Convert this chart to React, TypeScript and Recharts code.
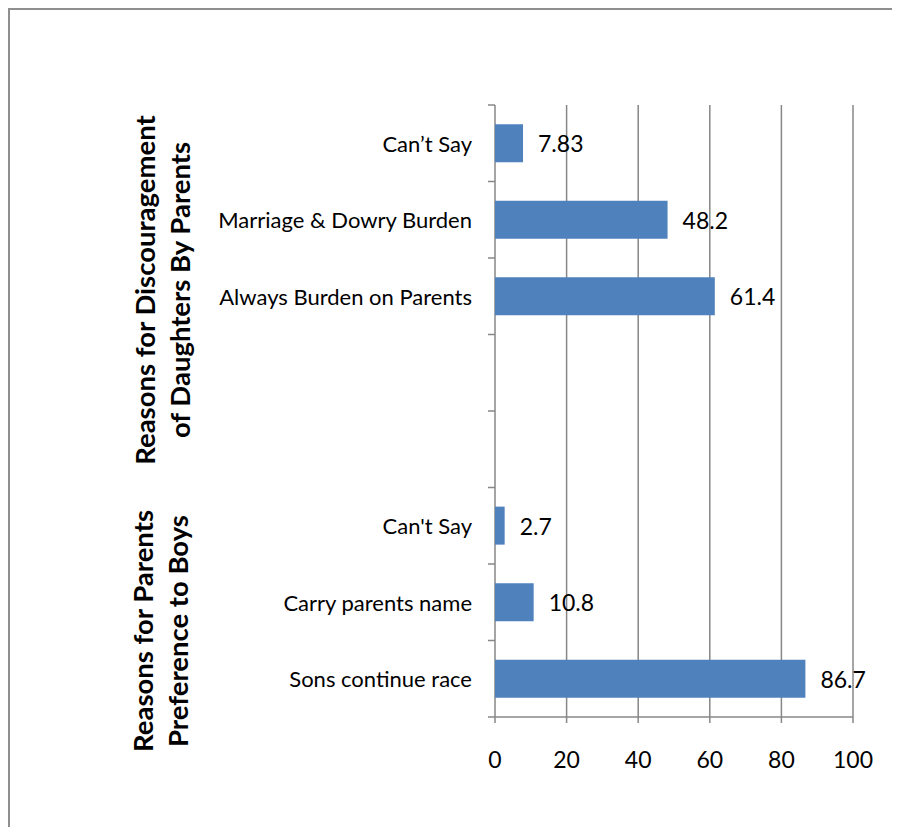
import { BarChart, Bar, XAxis, YAxis, CartesianGrid, LabelList } from "recharts";

// Rows top to bottom; the two empty slots separate the groups
const categories = [
  "Can’t Say",
  "Marriage & Dowry Burden",
  "Always Burden on Parents",
  "",
  "",
  "Can't Say",
  "Carry parents name",
  "Sons continue race",
];
const percentages = [7.83, 48.2, 61.4, null, null, 2.7, 10.8, 86.7];
const xTicks = [0, 20, 40, 60, 80, 100];
const groupTitles = [
  ["Reasons for Discouragement", "of Daughters By Parents"],
  ["Reasons for Parents", "Preference to Boys"],
];

const data = categories.map((name, i) => ({ idx: i, name, value: percentages[i] }));

const FONT = "Lato, 'Open Sans', sans-serif";
const AXIS = "#878787";
const LABEL_GAP = 23;
const MARK = 7;

const ValueLabel = (props: any) => {
  const { x, y, width, height, value } = props;
  if (value == null) return null;
  return (
    <text
      x={x + width + 15}
      y={y + height / 2}
      dominantBaseline="central"
      fontSize={23}
      fontFamily={FONT}
      fill="#000"
    >
      {value}
    </text>
  );
};

// Category label plus the small marks on the band edges (above each row, and below the last)
const CategoryTick = (props: any) => {
  const { x, y, payload } = props;
  const half = payload.offset ?? 38.25;
  const axisX = x + LABEL_GAP;
  const last = payload.index === categories.length - 1;
  return (
    <g>
      <line x1={axisX - MARK} x2={axisX} y1={y - half} y2={y - half} stroke={AXIS} strokeWidth={1.5} />
      {last && (
        <line x1={axisX - MARK} x2={axisX} y1={y + half} y2={y + half} stroke={AXIS} strokeWidth={1.5} />
      )}
      <text
        x={x}
        y={y}
        textAnchor="end"
        dominantBaseline="central"
        fontSize={22}
        fontFamily={FONT}
        fill="#000"
      >
        {categories[payload.value]}
      </text>
    </g>
  );
};

const titleStyle = (cx: number, cy: number): React.CSSProperties => ({
  position: "absolute",
  left: cx,
  top: cy,
  width: 460,
  transform: "translate(-50%, -50%) rotate(-90deg)",
  textAlign: "center",
  fontFamily: FONT,
  fontWeight: 700,
  fontSize: 27.5,
  lineHeight: "35px",
  color: "#000",
  whiteSpace: "nowrap",
});

export default function App() {
  return (
    <div
      style={{
        position: "relative",
        width: 892,
        height: 819,
        borderTop: "2px solid #8f8f8f",
        borderLeft: "2px solid #8f8f8f",
        boxSizing: "border-box",
        background: "#fff",
      }}
    >
      <BarChart
        width={880}
        height={800}
        data={data}
        layout="vertical"
        barCategoryGap="25%"
        margin={{ top: 95, right: 37, left: 285, bottom: 33 }}
      >
        <CartesianGrid horizontal={false} stroke={AXIS} strokeWidth={1.5} />
        <XAxis
          type="number"
          domain={[0, 100]}
          ticks={xTicks}
          interval={0}
          height={60}
          stroke={AXIS}
          strokeWidth={1.5}
          tickSize={6}
          tickMargin={29}
          tick={{ fill: "#000", fontSize: 23, fontFamily: FONT }}
        />
        <YAxis
          type="category"
          dataKey="idx"
          width={200}
          axisLine={false}
          tickLine={false}
          tickSize={0}
          tickMargin={LABEL_GAP}
          interval={0}
          tick={CategoryTick}
        />
        <Bar dataKey="value" fill="#4f81bd" isAnimationActive={false}>
          <LabelList dataKey="value" content={ValueLabel} />
        </Bar>
      </BarChart>
      <div style={titleStyle(152, 280)}>
        {groupTitles[0][0]}
        <br />
        {groupTitles[0][1]}
      </div>
      <div style={titleStyle(150, 621)}>
        {groupTitles[1][0]}
        <br />
        {groupTitles[1][1]}
      </div>
    </div>
  );
}
